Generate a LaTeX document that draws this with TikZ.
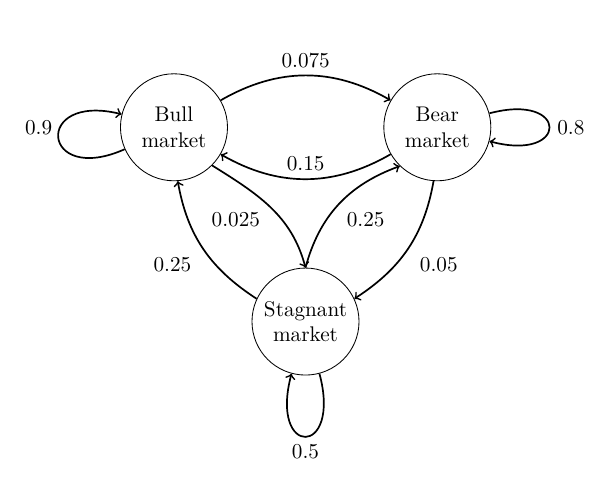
\documentclass[tikz,border=0pt]{standalone}
\usepackage{amsmath,amssymb}
\begin{document}
\begin{tikzpicture}[->,auto,node distance=4.365cm,thick,
  market/.style={circle,draw,thin,minimum size=1.774cm,inner sep=0pt,align=center}]
\useasboundingbox (-2.884,-5.830) rectangle (7.194,2.110);
\node[market] (Bu) {Bull\\market};
\node[market] (Be) [right of=Bu] {Bear\\market};
\node[market] (St) at (2.18,-3.22) {Stagnant\\market};
\draw (Bu) to[out=204,in=166,looseness=6.7] node[left,pos=0.6] {0.9} (Bu);
\draw (Be) to[out=15,in=-15,looseness=7.6] node[right] {0.8} (Be);
\draw (St) to[out=285,in=255,looseness=8] node[below] {0.5} (St);
\draw (Bu.30) to[out=30,in=150] node {0.075} (Be.150);
\draw (Be.210) to[out=210,in=-30] node[swap] {0.15} (Bu.-30);
\draw (Bu.-45) to[out=-32,in=105] node[swap,pos=0.47] {0.025} (St.north);
\draw (St.north) to[out=75,in=200] node[swap] {0.25} (Be.-134);
\draw (St.155) to[out=147,in=-80] node[xshift=-2pt] {0.25} (Bu.-86);
\draw (Be.-94) to[out=-100,in=33] node[xshift=2pt] {0.05} (St.25);
\end{tikzpicture}
\end{document}
